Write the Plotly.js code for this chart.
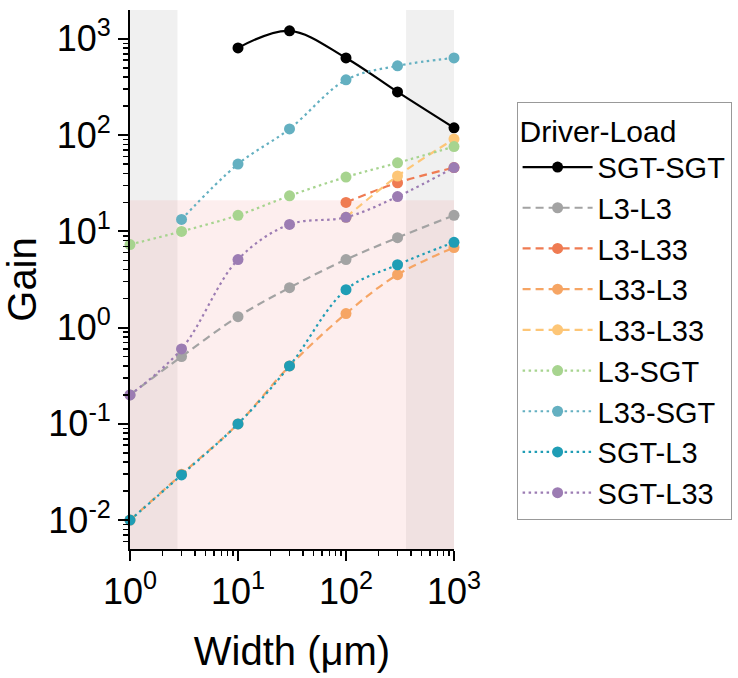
<!DOCTYPE html>
<html>
<head>
<meta charset="utf-8">
<script src="https://cdn.plot.ly/plotly-3.0.1.min.js"></script>
<style>html,body{margin:0;padding:0;background:#fff;}#chart{width:738px;height:678px;}</style>
</head>
<body>
<div id="chart"></div>
<script>
const widths = [1, 3, 10, 30, 100, 300, 1000];
const widthsSGT = [10, 30, 100, 300, 1000];
const widthsHigh = [100, 300, 1000];
const widthsL33SGT = [3, 10, 30, 100, 300, 1000];

const gainSGT_SGT = [806, 1211, 634, 281, 119];
const gainL3_L3 = [0.2, 0.5, 1.3, 2.6, 5.1, 8.6, 14.7];
const gainL3_L33 = [20, 32, 46];
const gainL33_L3 = [0.01, 0.03, 0.1, 0.4, 1.4, 3.55, 6.8];
const gainL33_L33 = [14, 37.6, 91];
const gainL3_SGT = [7.3, 10, 14.7, 23.4, 36.7, 51.5, 76];
const gainL33_SGT = [13.3, 50, 116, 375, 525, 634];
const gainSGT_L3 = [0.01, 0.0295, 0.1, 0.4, 2.48, 4.5, 7.7];
const gainSGT_L33 = [0.2, 0.6, 5.1, 11.8, 14, 23, 46];

const xTickVals = [1, 10, 100, 1000];
const xTickText = ['10<sup>0</sup>', '10<sup>1</sup>', '10<sup>2</sup>', '10<sup>3</sup>'];
const yTickVals = [0.01, 0.1, 1, 10, 100, 1000];
const yTickText = ['10<sup>-2</sup>', '10<sup>-1</sup>', '10<sup>0</sup>', '10<sup>1</sup>', '10<sup>2</sup>', '10<sup>3</sup>'];

const greyBandsX = [[1, 2.75], [360, 1000]];
const pinkBandY = [0.005, 21];

const DASH = '8px,5px';
const DOT = '2.5px,3.5px';

function tr(name, x, y, color, dash, width) {
  return {
    type: 'scatter', mode: 'lines+markers', name: name, x: x, y: y,
    line: {color: color, dash: dash, width: width || 2.2, shape: 'spline', smoothing: 1},
    marker: {color: color, size: 11},
    cliponaxis: false
  };
}

const data = [
  tr('SGT-SGT', widthsSGT, gainSGT_SGT, '#000000', 'solid', 2.2),
  tr('L3-L3', widths, gainL3_L3, '#a3a3a3', DASH),
  tr('L3-L33', widthsHigh, gainL3_L33, '#ef7b52', DASH),
  tr('L33-L3', widths, gainL33_L3, '#f6a564', DASH),
  tr('L33-L33', widthsHigh, gainL33_L33, '#fdc677', DASH),
  tr('L3-SGT', widths, gainL3_SGT, '#a7d48f', DOT),
  tr('L33-SGT', widthsL33SGT, gainL33_SGT, '#64b0c1', DOT),
  tr('SGT-L3', widths, gainSGT_L3, '#1f9db5', DOT),
  tr('SGT-L33', widths, gainSGT_L33, '#9c7cb3', DOT)
];

const shapes = greyBandsX.map(b => ({
  type: 'rect', xref: 'x', yref: 'y domain', x0: b[0], x1: b[1], y0: 0, y1: 1,
  fillcolor: '#f0f0f0', line: {width: 0}, layer: 'below'
}));
shapes.push({
  type: 'rect', xref: 'x domain', yref: 'y', x0: 0, x1: 1, y0: pinkBandY[0], y1: pinkBandY[1],
  fillcolor: 'rgba(240,120,120,0.13)', line: {width: 0}, layer: 'below'
});

const font = 'Liberation Sans, Arial, sans-serif';
const layout = {
  width: 738, height: 678,
  margin: {l: 130, r: 284, t: 10, b: 129, autoexpand: false},
  paper_bgcolor: '#fff', plot_bgcolor: '#fff',
  font: {family: font, color: '#000'},
  showlegend: true,
  xaxis: {
    type: 'log', range: [0, 3], tickmode: 'array', tickvals: xTickVals, ticktext: xTickText,
    automargin: false,
    showgrid: false, zeroline: false, showline: true, linecolor: '#000', linewidth: 2,
    ticks: 'outside', ticklen: 10, tickwidth: 2, tickcolor: '#000',
    minor: {ticks: 'outside', ticklen: 5, tickwidth: 1.5, tickcolor: '#000', dtick: 'D1', showgrid: false},
    tickfont: {size: 36, family: font},
    title: {text: 'Width (μm)', font: {size: 40, family: font}, standoff: 26}
  },
  yaxis: {
    type: 'log', range: [-2.3, 3.3], tickmode: 'array', tickvals: yTickVals, ticktext: yTickText,
    automargin: false,
    showgrid: false, zeroline: false, showline: true, linecolor: '#000', linewidth: 2,
    ticks: 'outside', ticklen: 10, tickwidth: 2, tickcolor: '#000',
    minor: {ticks: 'outside', ticklen: 5, tickwidth: 1.5, tickcolor: '#000', dtick: 'D1', showgrid: false},
    tickfont: {size: 36, family: font},
    title: {text: 'Gain', font: {size: 40, family: font}, standoff: 0}
  },
  shapes: shapes,
  legend: {
    xref: 'container', yref: 'container',
    x: 0.7, y: 0.85, xanchor: 'left', yanchor: 'top',
    maxheight: 660,
    bgcolor: '#fff', bordercolor: '#999', borderwidth: 1,
    font: {size: 29, family: font},
    title: {text: 'Driver-Load', font: {size: 30, family: font}},
    itemwidth: 70, tracegroupgap: 0
  }
};

Plotly.newPlot('chart', data, layout, {displayModeBar: false, staticPlot: true});
</script>
</body>
</html>
